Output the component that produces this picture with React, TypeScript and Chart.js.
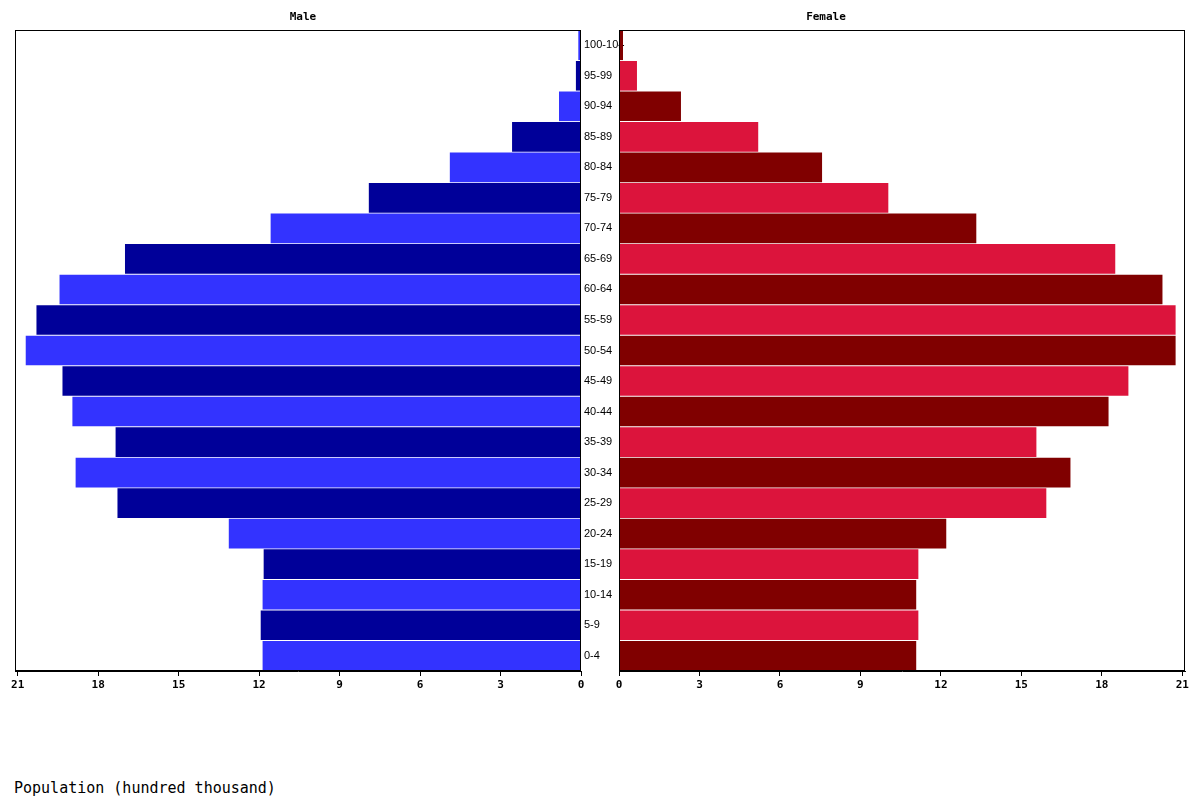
import { useEffect, useRef } from "react";
import { Chart, registerables } from "chart.js";

Chart.register(...registerables);

// age groups, bottom to top
const ageGroups = [
  "0-4", "5-9", "10-14", "15-19", "20-24", "25-29", "30-34", "35-39",
  "40-44", "45-49", "50-54", "55-59", "60-64", "65-69", "70-74", "75-79",
  "80-84", "85-89", "90-94", "95-99", "100-104"
];

// population, hundred thousand
const maleValues = [
  11.87, 11.94, 11.87, 11.83, 13.13, 17.28, 18.84, 17.35, 18.96, 19.33,
  20.7, 20.3, 19.44, 17.0, 11.57, 7.91, 4.89, 2.57, 0.82, 0.19, 0.1
];
const femaleValues = [
  11.08, 11.16, 11.08, 11.16, 12.2, 15.93, 16.83, 15.56, 18.25, 18.99,
  20.75, 20.75, 20.26, 18.5, 13.32, 10.04, 7.57, 5.19, 2.31, 0.67, 0.15
];

const maleColors = ["#3333FF", "#000099"];
const femaleColors = ["#800000", "#DC143C"];

const axisMax = 21.1;
const axisStep = 3;

const monoFont = "'DejaVu Sans Mono', 'Liberation Mono', monospace";

const framePlugin = {
  id: "frame",
  afterDraw(chart: any) {
    const { ctx, chartArea } = chart;
    ctx.save();
    ctx.strokeStyle = "#000";
    ctx.lineWidth = 1;
    ctx.strokeRect(
      Math.round(chartArea.left) + 0.5,
      Math.round(chartArea.top) + 0.5,
      Math.round(chartArea.right - chartArea.left) - 1,
      Math.round(chartArea.bottom - chartArea.top) - 1
    );
    ctx.restore();
  }
};

function HalfPyramid({ side }: { side: "male" | "female" }) {
  const canvasRef = useRef<HTMLCanvasElement | null>(null);
  const isMale = side === "male";
  const width = isMale ? 600 : 619;
  const height = 700;

  useEffect(() => {
    if (!canvasRef.current) {
      return;
    }

    const values = isMale ? maleValues : femaleValues;
    const colors = isMale ? maleColors : femaleColors;

    const chart = new Chart(canvasRef.current, {
      type: "bar",
      data: {
        labels: ageGroups,
        datasets: [
          {
            label: isMale ? "Male" : "Female",
            data: values,
            backgroundColor: values.map((_, i) => colors[i % 2]),
            borderWidth: 0,
            barPercentage: 0.97,
            categoryPercentage: 1
          }
        ]
      },
      options: {
        indexAxis: "y",
        responsive: false,
        animation: false,
        layout: {
          padding: isMale
            ? { left: 15, right: 19, top: 30, bottom: 0 }
            : { left: 3, right: 15, top: 30, bottom: 0 }
        },
        scales: {
          x: {
            type: "linear",
            reverse: isMale,
            min: 0,
            max: axisMax,
            ticks: {
              stepSize: axisStep,
              includeBounds: false,
              color: "#000",
              padding: 3,
              font: { family: monoFont, size: 11, weight: "bold" }
            },
            grid: {
              drawOnChartArea: false,
              drawTicks: true,
              tickLength: 5,
              color: "#000"
            },
            border: { display: true, color: "#000" },
            afterFit: (scale: any) => {
              scale.height = 29;
            }
          },
          y: {
            type: "category",
            reverse: true,
            display: !isMale,
            position: "left",
            ticks: {
              autoSkip: false,
              mirror: true,
              crossAlign: "near",
              padding: -35,
              color: "#000",
              font: { family: "'Liberation Sans', Arial, sans-serif", size: 11 }
            },
            grid: { display: false, drawTicks: false },
            border: { display: false },
            afterFit: (scale: any) => {
              if (!isMale) {
                scale.width = 35;
              }
            }
          }
        },
        plugins: {
          legend: { display: false },
          tooltip: { enabled: false },
          title: { display: false }
        }
      },
      plugins: [framePlugin]
    });

    return () => chart.destroy();
  }, [isMale]);

  return (
    <canvas
      ref={canvasRef}
      width={width}
      height={height}
      style={{
        position: "absolute",
        left: isMale ? 0 : 581,
        top: 0,
        width,
        height
      }}
    />
  );
}

const titleStyle = {
  position: "absolute" as const,
  top: 10,
  width: 200,
  textAlign: "center" as const,
  fontFamily: monoFont,
  fontSize: 11,
  fontWeight: "bold" as const,
  lineHeight: "13px",
  color: "#000"
};

export default function App() {
  return (
    <div
      style={{
        position: "absolute",
        left: 0,
        top: 0,
        width: 1200,
        height: 800,
        background: "#fff",
        overflow: "hidden"
      }}
    >
      <HalfPyramid side="male" />
      <HalfPyramid side="female" />
      <div style={{ ...titleStyle, left: 203 }}>Male</div>
      <div style={{ ...titleStyle, left: 726 }}>Female</div>
      <div
        style={{
          position: "absolute",
          left: 14,
          top: 779,
          fontFamily: monoFont,
          fontSize: 15,
          lineHeight: "18px",
          color: "#000",
          whiteSpace: "nowrap"
        }}
      >
        Population (hundred thousand)
      </div>
    </div>
  );
}
